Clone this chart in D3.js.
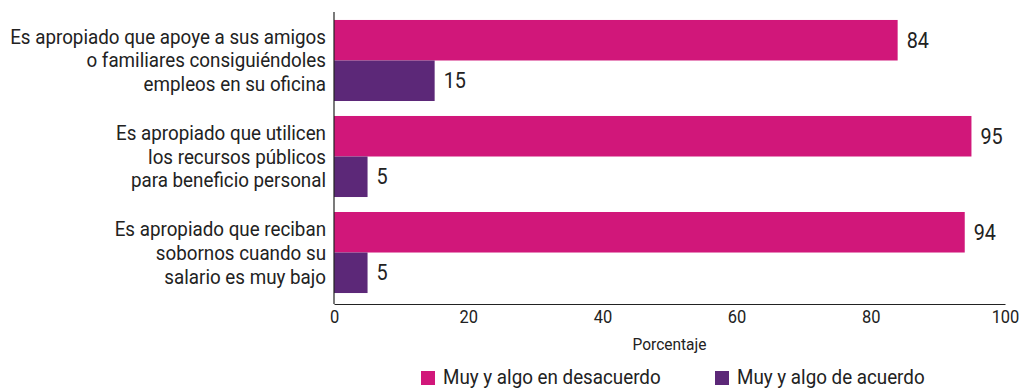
<!DOCTYPE html>
<html>
<head>
<meta charset="utf-8">
<script src="https://cdn.jsdelivr.net/npm/d3@7"></script>
<style>
  html, body { margin: 0; padding: 0; background: #fff; }
  svg { display: block; font-family: Roboto, "Noto Sans", sans-serif; }
</style>
</head>
<body>
<svg id="chart" width="1021" height="389"></svg>
<script>
// Survey statements (each split into display lines)
const categories = [
  ["Es apropiado que apoye a sus amigos", "o familiares consiguiéndoles", "empleos en su oficina"],
  ["Es apropiado que utilicen", "los recursos públicos", "para beneficio personal"],
  ["Es apropiado que reciban", "sobornos cuando su", "salario es muy bajo"]
];
const seriesNames = ["Muy y algo en desacuerdo", "Muy y algo de acuerdo"];
const desacuerdo = [84, 95, 94];
const acuerdo = [15, 5, 5];
const xTicks = [0, 20, 40, 60, 80, 100];
const xTitle = "Porcentaje";

const colors = ["#d1177a", "#5c2878"];
const textColor = "#222222";
const condense = 0.94;      // horizontal squeeze for a condensed type look
const condenseVal = 0.9;

const svg = d3.select("#chart");
const margin = { left: 334, top: 12 };
const plotBottom = 304;

const x = d3.scaleLinear().domain([0, 100]).range([margin.left, 1005]);
const idx = d3.range(categories.length);
const y0 = d3.scaleBand().domain(idx).range([margin.top, plotBottom - 3])
  .paddingInner(0.156).paddingOuter(0.083);
const y1 = d3.scaleBand().domain([0, 1]).range([0, y0.bandwidth()]);

const series = [desacuerdo, acuerdo];

// bars and their value labels
series.forEach((vals, s) => {
  svg.append("g").selectAll("rect")
    .data(vals)
    .join("rect")
    .attr("x", x(0))
    .attr("y", (d, i) => y0(i) + y1(s))
    .attr("width", d => x(d) - x(0))
    .attr("height", y1.bandwidth())
    .attr("fill", colors[s]);

  svg.append("g").selectAll("g")
    .data(vals)
    .join("g")
    .attr("transform", (d, i) => `translate(${x(d) + 9},${y0(i) + y1(s) + y1.bandwidth() / 2}) scale(${condenseVal},1)`)
    .append("text")
    .attr("dy", "0.35em")
    .attr("font-size", 22)
    .attr("fill", textColor)
    .text(d => d);
});

// category labels, right-aligned next to the axis
const catG = svg.append("g").selectAll("g")
  .data(categories)
  .join("g")
  .attr("transform", (d, i) => `translate(${margin.left - 8},${y0(i) + y0.bandwidth() / 2}) scale(${condense},1)`);
catG.each(function (lines) {
  const t = d3.select(this).append("text")
    .attr("text-anchor", "end")
    .attr("font-size", 20)
    .attr("fill", textColor);
  lines.forEach((ln, k) => {
    t.append("tspan")
      .attr("x", 0)
      .attr("y", (k - (lines.length - 1) / 2) * 24)
      .attr("dy", "0.35em")
      .text(ln);
  });
});

// y axis line
svg.append("line")
  .attr("x1", x(0)).attr("x2", x(0))
  .attr("y1", margin.top).attr("y2", plotBottom)
  .attr("stroke", "#222").attr("stroke-width", 1.2);

// x axis
const xAxis = d3.axisBottom(x).tickValues(xTicks).tickSize(0).tickPadding(7);
const xg = svg.append("g")
  .attr("transform", `translate(0,${plotBottom})`)
  .call(xAxis);
xg.select(".domain").attr("stroke", "#222").attr("stroke-width", 1.2);
xg.selectAll(".tick text")
  .attr("font-family", "Roboto")
  .attr("font-size", 17.5)
  .attr("fill", textColor)
  .attr("transform", `scale(${condense},1)`);

// axis title
svg.append("g")
  .attr("transform", `translate(${(x(0) + x(100)) / 2},350) scale(${condense},1)`)
  .append("text")
  .attr("text-anchor", "middle")
  .attr("font-size", 16.5)
  .attr("fill", textColor)
  .text(xTitle);

// legend
const legendX = [421, 715];
const leg = svg.append("g").selectAll("g")
  .data(seriesNames)
  .join("g")
  .attr("transform", (d, i) => `translate(${legendX[i]},384)`);
leg.append("rect")
  .attr("x", 0).attr("y", -13)
  .attr("width", 14).attr("height", 14)
  .attr("fill", (d, i) => colors[i]);
leg.append("g")
  .attr("transform", `translate(22,0) scale(${condense},1)`)
  .append("text")
  .attr("font-size", 20)
  .attr("fill", textColor)
  .text(d => d);
</script>
</body>
</html>
